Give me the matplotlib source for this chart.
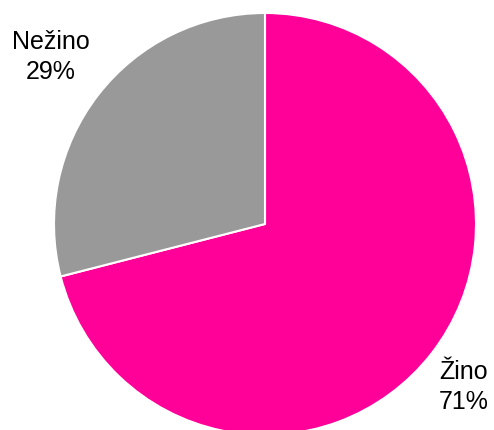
import matplotlib.pyplot as plt

# ================= DATA =================
labels = ["Žino", "Nežino"]
shares = [71, 29]
colors = ["#FF0099", "#999999"]

# ================= PLOT =================
fig = plt.figure(figsize=(4.94, 4.30), dpi=100)
ax = fig.add_axes([0, 0, 1, 1])

# y axis runs downwards (pixel-like), so startangle -90 is the top
# and counterclock=True draws clockwise on screen
ax.pie(shares, colors=colors, startangle=-90, counterclock=True,
       center=(265, 224), radius=211,
       wedgeprops=dict(edgecolor="white", linewidth=1.5))

# labels outside the pie
label_pos = [(464, 387), (51, 57)]
for (x, y), name, val in zip(label_pos, labels, shares):
    ax.text(x, y, f"{name}\n{val}%", ha="center", va="center",
            fontsize=18, family="Liberation Sans", linespacing=1.3)

ax.set_xlim(0, 494)
ax.set_ylim(430, 0)
ax.set_aspect("equal")
ax.axis("off")
fig.savefig("out.png", dpi=100)
